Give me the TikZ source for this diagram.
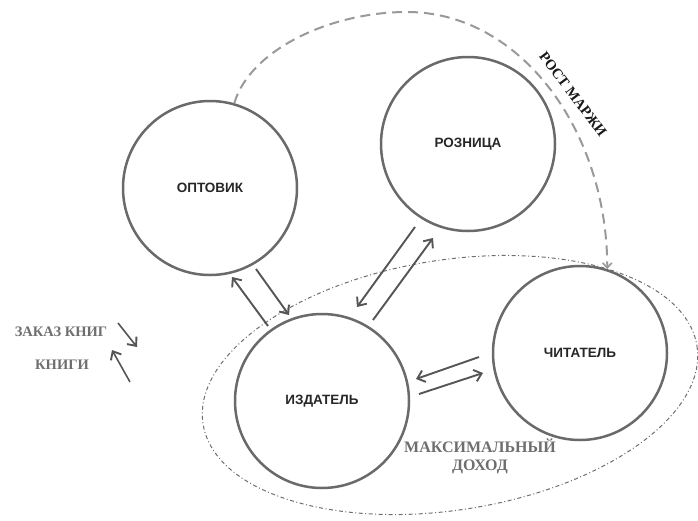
\documentclass[tikz,border=0pt]{standalone}
\usepackage{fontspec}
\setmainfont{Liberation Serif}
\newfontfamily\lsans{Liberation Sans}
\usetikzlibrary{arrows.meta}
\definecolor{circ}{HTML}{6A6A6A}
\definecolor{arr}{HTML}{555555}
\definecolor{leg}{HTML}{6E6E6E}
\definecolor{dsh}{HTML}{999999}
\definecolor{ellc}{HTML}{6E6E6E}
\begin{document}
\begin{tikzpicture}[x=1pt,y=-1pt,
  actor/.style={circle, draw=circ, line width=2.5pt, minimum size=174pt, inner sep=0pt,
    font=\lsans\bfseries\fontsize{13.5}{16}\selectfont, text=black!85},
  flow/.style={draw=arr, line width=1.9pt, -{Straight Barb[length=7pt,width=12pt,line width=1.9pt]}},
  legtext/.style={text=leg, font=\bfseries\fontsize{14.5}{17}\selectfont, inner sep=0pt},
  bigtext/.style={text=leg, font=\bfseries\fontsize{16}{18}\selectfont, inner sep=0pt, align=center},
  margin/.style={text=black!90, font=\bfseries\fontsize{14.5}{17}\selectfont, inner sep=0pt},
  ellline/.style={draw=ellc, line width=1pt, dash pattern=on 4pt off 2.5pt on 1pt off 2.5pt},
  dashline/.style={draw=dsh, line width=2pt, dash pattern=on 10pt off 6pt,
    -{Straight Barb[length=5pt,width=9pt,line width=1.6pt]}},
  ]
\useasboundingbox (0,0) rectangle (698,520);

% circles
\node[actor] (opt) at (210,188) {ОПТОВИК};
\node[actor] (roz) at (468,144) {РОЗНИЦА};
\node[actor] (izd) at (322,401) {ИЗДАТЕЛЬ};
\node[actor] (chit) at (580,353) {ЧИТАТЕЛЬ};

% ellipse
\draw[ellline, rotate around={9:(450,385)}] (450,385) ellipse [x radius=250, y radius=125];

% dashed curve
\draw[dashline] (opt.74) .. controls (250,50) and (330,12) .. (407,12)
  .. controls (520,12) and (607,130) .. (chit.72);
\node[margin, rotate=-53] (rm) at (573,94) {РОСТ МАРЖИ};

% arrow end points
\coordinate (a1s) at (268,326); \coordinate (a1e) at (232,277);
\coordinate (a2s) at (256,269); \coordinate (a2e) at (289,315);
\coordinate (b1s) at (415,227); \coordinate (b1e) at (357,307);
\coordinate (b2s) at (373,320); \coordinate (b2e) at (433,238);
\coordinate (c1s) at (479,357); \coordinate (c1e) at (416,379);
\coordinate (c2s) at (419,394); \coordinate (c2e) at (483,373);
\draw[flow] (a1s) -- (a1e);
\draw[flow] (a2s) -- (a2e);
\draw[flow] (b1s) -- (b1e);
\draw[flow] (b2s) -- (b2e);
\draw[flow] (c1s) -- (c1e);
\draw[flow] (c2s) -- (c2e);

% legend
\node[legtext] (lz) at (61,332) {ЗАКАЗ КНИГ};
\node[legtext] (lk) at (62,365) {КНИГИ};
\coordinate (l1s) at (118,323); \coordinate (l1e) at (137,347);
\coordinate (l2s) at (130,382); \coordinate (l2e) at (112,350);
\draw[flow, line width=1.6pt] (l1s) -- (l1e);
\draw[flow, line width=1.6pt] (l2s) -- (l2e);

% max income
\node[bigtext] (mx) at (480,456) {МАКСИМАЛЬНЫЙ\\ДОХОД};
\end{tikzpicture}
\end{document}
